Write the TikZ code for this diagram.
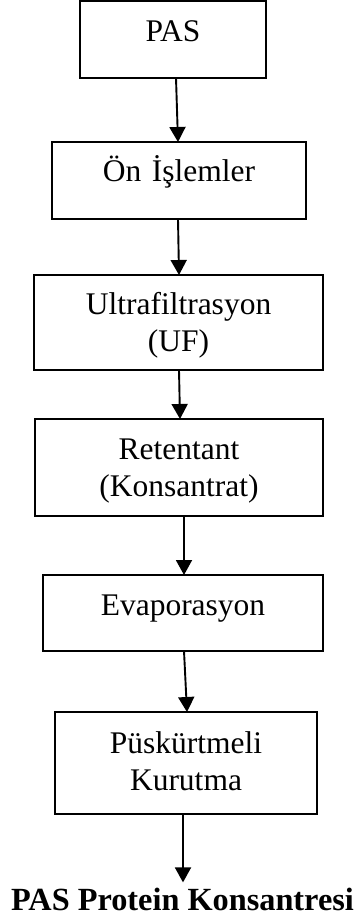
\documentclass[tikz,border=0pt]{standalone}
\usepackage{fontspec}
\setmainfont{Liberation Serif}
\usetikzlibrary{arrows.meta}
\begin{document}
\begin{tikzpicture}[x=1pt,y=-1pt,
  box/.style={draw,line width=1.5pt,inner sep=0pt,outer sep=0pt,rectangle},
  lbl/.style={anchor=base,inner sep=0pt,text width=300pt,align=center,
    font=\fontsize{31.5pt}{37pt}\selectfont},
  arr/.style={line width=1.9pt,-{Triangle[length=15pt,width=16pt]}}]
\useasboundingbox (0,0) rectangle (356,917);

\node[box,minimum width=186pt,minimum height=77pt] (b1) at (173,39.5) {};
\node[box,minimum width=254pt,minimum height=77pt] (b2) at (179,180.5) {};
\node[box,minimum width=289pt,minimum height=95pt] (b3) at (178.5,322.5) {};
\node[box,minimum width=288pt,minimum height=97pt] (b4) at (179,467.5) {};
\node[box,minimum width=280pt,minimum height=76pt] (b5) at (183,613) {};
\node[box,minimum width=262pt,minimum height=102pt] (b6) at (186,763) {};

\node[lbl] (t1) at ([yshift=-40.5pt]b1.north) {PAS};
\node[lbl] (t2) at ([yshift=-40pt]b2.north) {Ön İşlemler};
\node[lbl] (t3) at ([yshift=-39.5pt]b3.north) {Ultrafiltrasyon\\(UF)};
\node[lbl] (t4) at ([yshift=-40pt]b4.north) {Retentant\\(Konsantrat)};
\node[lbl] (t5) at ([yshift=-40pt]b5.north) {Evaporasyon};
\node[lbl] (t6) at ([yshift=-41pt]b6.north) {Püskürtmeli\\Kurutma};

\node[anchor=base,inner sep=5pt,font=\fontsize{32.3pt}{38pt}\selectfont\bfseries] (out) at (182.5,910) {PAS Protein Konsantresi};

\draw[arr] ([xshift=3pt]b1.south) -- ([xshift=-1pt]b2.north);
\draw[arr] ([xshift=-1pt]b2.south) -- ([xshift=0.5pt]b3.north);
\draw[arr] ([xshift=0.5pt]b3.south) -- ([xshift=1pt]b4.north);
\draw[arr] ([xshift=5pt]b4.south) -- ([xshift=1pt]b5.north);
\draw[arr] ([xshift=1pt]b5.south) -- ([xshift=1pt]b6.north);
\draw[arr] ([xshift=-3pt]b6.south) -- ([xshift=0.5pt]out.north);
\end{tikzpicture}
\end{document}
